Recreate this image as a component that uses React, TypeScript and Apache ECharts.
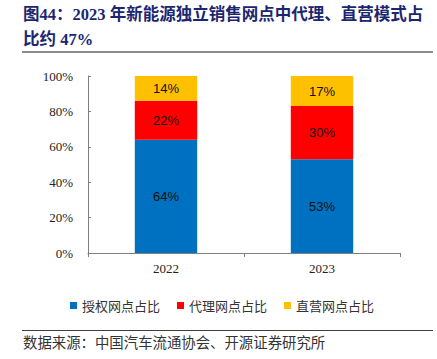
import React, { useEffect, useRef } from "react";
import * as echarts from "echarts";

const categories = ["2022", "2023"];
const authorizedShare = [64, 53];
const agencyShare = [22, 30];
const directShare = [14, 17];
const seriesNames = ["授权网点占比", "代理网点占比", "直营网点占比"];
const yTicks = [0, 20, 40, 60, 80, 100];

const titleLine1 = "图44：2023 年新能源独立销售网点中代理、直营模式占";
const titleLine2 = "比约 47%";
const sourceText = "数据来源：中国汽车流通协会、开源证券研究所";

export default function App() {
  const ref = useRef<HTMLDivElement>(null);
  useEffect(() => {
    if (!ref.current) return;
    const chart = echarts.init(ref.current, undefined, { renderer: "svg" });
    const colors = ["#0070C0", "#FF0000", "#FFC000"];
    const dataSets = [authorizedShare, agencyShare, directShare];
    const labelStyle = {
      show: true,
      position: "inside",
      color: "#111",
      fontFamily: "Liberation Sans, Arial, sans-serif",
      fontSize: 13,
      formatter: (p: any) => p.value + "%",
    };
    chart.setOption({
      animation: false,
      backgroundColor: "#fff",
      grid: { left: 88, right: 37, top: 76, bottom: 106 },
      legend: {
        data: seriesNames,
        left: 65,
        top: 294,
        icon: "rect",
        itemWidth: 7,
        itemHeight: 7,
        itemGap: 17,
        textStyle: {
          fontFamily: "Noto Sans CJK SC, sans-serif",
          fontSize: 13,
          color: "#333",
        },
      },
      xAxis: {
        type: "category",
        data: categories,
        axisLine: { lineStyle: { color: "#7f7f7f", width: 1 } },
        axisTick: { show: true, length: 4, alignWithLabel: false, lineStyle: { color: "#7f7f7f" } },
        axisLabel: {
          margin: 9,
          color: "#222",
          fontFamily: "Liberation Serif, Times New Roman, serif",
          fontSize: 13,
        },
      },
      yAxis: {
        type: "value",
        min: yTicks[0],
        max: yTicks[yTicks.length - 1],
        interval: 20,
        axisLine: { show: true, lineStyle: { color: "#7f7f7f", width: 1 } },
        axisTick: { show: true, inside: true, length: 3, lineStyle: { color: "#7f7f7f" } },
        splitLine: { show: false },
        axisLabel: {
          margin: 15,
          color: "#222",
          fontFamily: "Liberation Serif, Times New Roman, serif",
          fontSize: 13,
          formatter: (v: number) => v + "%",
        },
      },
      series: seriesNames.map((name, i) => ({
        name,
        type: "bar",
        stack: "total",
        barWidth: "40%",
        data: dataSets[i],
        itemStyle: { color: colors[i] },
        label: labelStyle,
      })),
      graphic: [
        {
          type: "text",
          left: 23,
          top: 6,
          style: {
            text: titleLine1,
            fontFamily: "Liberation Serif, Noto Sans CJK SC, serif",
            fontWeight: "bold",
            fontSize: 16.5,
            fill: "#1b2670",
          },
        },
        {
          type: "text",
          left: 23,
          top: 31,
          style: {
            text: titleLine2,
            fontFamily: "Liberation Serif, Noto Sans CJK SC, serif",
            fontWeight: "bold",
            fontSize: 16.5,
            fill: "#1b2670",
          },
        },
        {
          type: "line",
          shape: { x1: 22, y1: 52, x2: 433, y2: 52 },
          style: { stroke: "#8c8c8c", lineWidth: 2 },
        },
        {
          type: "line",
          shape: { x1: 22, y1: 330.5, x2: 433, y2: 330.5 },
          style: { stroke: "#404040", lineWidth: 1 },
        },
        {
          type: "text",
          left: 23,
          top: 334,
          style: {
            text: sourceText,
            fontFamily: "Noto Sans CJK SC, sans-serif",
            fontSize: 14.4,
            fill: "#333",
          },
        },
      ],
    });
    return () => chart.dispose();
  }, []);
  return <div ref={ref} style={{ width: 437, height: 359, position: "absolute", left: 0, top: 0 }} />;
}
